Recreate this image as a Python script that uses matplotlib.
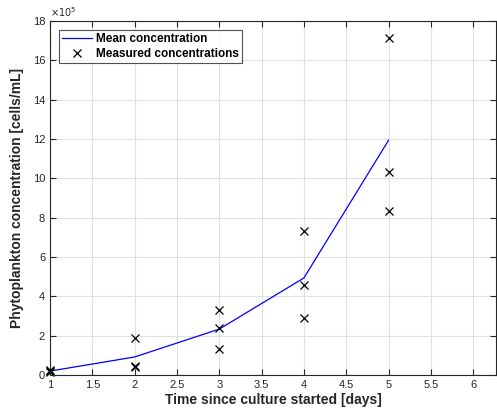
import numpy as np
import matplotlib
matplotlib.use("Agg")
import matplotlib.pyplot as plt

plt.rcParams['font.family'] = ['Liberation Sans', 'DejaVu Sans']

days = [1, 2, 3, 4, 5]
meas_days = [1, 1, 1, 2, 2, 2, 3, 3, 3, 4, 4, 4, 5, 5, 5]
meas_conc = [0.15e5, 0.2e5, 0.25e5, 1.9e5, 0.45e5, 0.4e5,
             3.3e5, 2.4e5, 1.3e5, 7.3e5, 4.6e5, 2.9e5,
             17.15e5, 10.3e5, 8.35e5]
mean_conc = [np.mean(meas_conc[i*3:i*3+3]) for i in range(5)]

fig = plt.figure(figsize=(4.97, 4.16), dpi=100)
ax = fig.add_axes([50/497, 41/416, 446/497, 354/416])

ax.plot(days, mean_conc, color='blue', lw=0.9, label='Mean concentration', clip_on=False)
ax.plot(meas_days, meas_conc, 'x', color='black', ms=6, mew=0.9,
        label='Measured concentrations', clip_on=False)

ax.set_xlim(1, 6.27)
ax.set_ylim(0, 18e5)
ax.set_xticks(np.arange(1, 6.01, 0.5))
ax.set_xticklabels(['1', '1.5', '2', '2.5', '3', '3.5', '4', '4.5', '5', '5.5', '6'])
ax.set_yticks(np.arange(0, 18.1e5, 2e5))
ax.set_yticklabels([str(v) for v in range(0, 19, 2)])
ax.text(0, 1.005, r'$\times10^5$', transform=ax.transAxes, fontsize=7, color='0.15',
        va='bottom', ha='left')

ax.grid(True, color='0.88', lw=0.8)
ax.set_axisbelow(True)
ax.tick_params(direction='in', top=True, right=True, labelsize=8, colors='0.15', length=4)
for s in ax.spines.values():
    s.set_color('0.15')
    s.set_linewidth(0.8)

ax.set_xlabel('Time since culture started [days]', fontsize=10, fontweight='bold', color='0.15', labelpad=2)
ax.set_ylabel('Phytoplankton concentration [cells/mL]', fontsize=10, fontweight='bold', color='0.15', labelpad=6)

leg = ax.legend(loc='upper left', prop={'weight': 'bold', 'size': 8.5},
                frameon=True, fancybox=False, edgecolor='0.15', borderaxespad=0.8,
                handlelength=2.5, borderpad=0.25, labelspacing=0.25, handletextpad=0.35)
leg.get_frame().set_linewidth(0.8)

fig.savefig('out.png', dpi=100)
